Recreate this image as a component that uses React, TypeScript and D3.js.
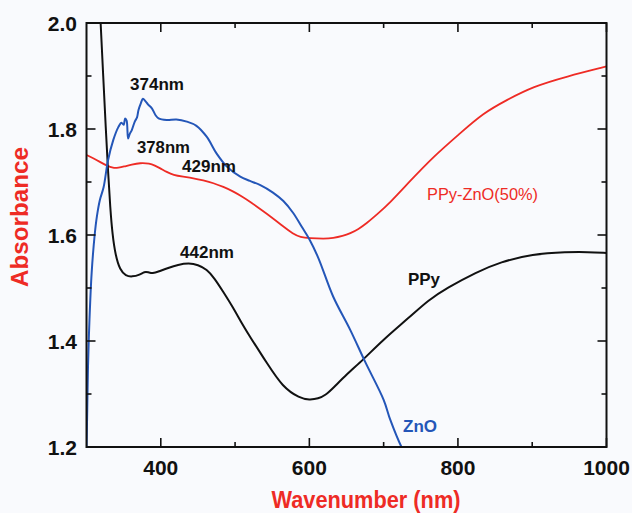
import React from "react";
import * as d3 from "d3";

// Absorbance spectra (wavelength in nm, absorbance)
const ppyWavelength = [317, 319, 322.5, 326, 329, 332, 335, 339, 345, 353, 361, 372, 378, 383, 389, 397, 410, 423, 438, 450, 462, 472, 484, 497, 508, 520, 543, 564, 587, 600, 612, 622, 632, 650, 672, 699, 735, 760, 785, 825, 857, 900, 947, 975, 1000];
const ppyAbsorbance = [2.06, 2.0, 1.9, 1.8, 1.72, 1.65, 1.6, 1.562, 1.534, 1.523, 1.521, 1.525, 1.531, 1.53, 1.527, 1.531, 1.538, 1.544, 1.547, 1.544, 1.535, 1.519, 1.493, 1.464, 1.436, 1.408, 1.358, 1.313, 1.292, 1.289, 1.291, 1.298, 1.311, 1.337, 1.364, 1.402, 1.445, 1.477, 1.5, 1.53, 1.549, 1.564, 1.568, 1.568, 1.566];

const znoWavelength = [300, 301, 302, 304, 307, 311, 314, 318, 323, 329, 336, 343, 347, 350, 352, 354, 356, 358, 361, 365, 368, 370, 373, 376, 379, 383, 388, 393, 397, 408, 421, 435, 448, 462, 475, 489, 507, 520, 534, 551, 565, 578, 590, 600, 612, 632, 655, 675, 700, 709, 724, 728];
const znoAbsorbance = [1.19, 1.27, 1.35, 1.44, 1.53, 1.6, 1.635, 1.666, 1.69, 1.741, 1.779, 1.804, 1.812, 1.808, 1.82, 1.816, 1.782, 1.79, 1.798, 1.814, 1.822, 1.836, 1.848, 1.857, 1.853, 1.846, 1.839, 1.826, 1.82, 1.817, 1.818, 1.814, 1.806, 1.785, 1.754, 1.729, 1.71, 1.702, 1.694, 1.68, 1.664, 1.642, 1.615, 1.592, 1.557, 1.484, 1.421, 1.361, 1.289, 1.251, 1.2, 1.19];

const compositeWavelength = [300, 309, 318, 327, 336, 343, 350, 361, 372, 385, 392, 399, 408, 417, 430, 444, 457, 471, 484, 498, 510, 520, 542, 565, 578, 588, 600, 620, 632, 645, 655, 666, 677, 692, 708, 735, 767, 803, 834, 866, 901, 946, 1000];
const compositeAbsorbance = [1.751, 1.745, 1.738, 1.731, 1.726, 1.727, 1.729, 1.733, 1.736, 1.735, 1.731, 1.726, 1.719, 1.713, 1.71, 1.707, 1.703, 1.698, 1.691, 1.682, 1.672, 1.663, 1.641, 1.616, 1.602, 1.596, 1.594, 1.593, 1.594, 1.598, 1.603, 1.611, 1.622, 1.64, 1.66, 1.701, 1.748, 1.792, 1.83, 1.855, 1.88, 1.899, 1.918];

const xMajorTicks = [400, 600, 800, 1000];
const xMinorTicks = [500, 700, 900];
const yMajorTicks = [1.2, 1.4, 1.6, 1.8, 2.0];
const yMinorTicks = [1.3, 1.5, 1.7, 1.9];

const W = 632;
const H = 513;
const left = 86.5;
const right = 606.5;
const top = 23;
const bottom = 447;

const FONT = "'Liberation Sans', Arial, Helvetica, sans-serif";
const RED = "#ee2b25";
const BLUE = "#2456b8";
const BLACK = "#111111";

const x = d3.scaleLinear().domain([300, 1000]).range([left, right]);
const y = d3.scaleLinear().domain([1.2, 2.0]).range([bottom, top]);

const pair = (xs: number[], ys: number[]) => xs.map((v, i) => [v, ys[i]] as [number, number]);

// smooth spectra (PPy, composite)
const smoothLine = d3
  .line<[number, number]>()
  .x((d) => x(d[0]))
  .y((d) => y(d[1]))
  .curve(d3.curveBasis);

// ZnO keeps its sharp features near the band edge
const detailLine = d3
  .line<[number, number]>()
  .x((d) => x(d[0]))
  .y((d) => y(d[1]))
  .curve(d3.curveCatmullRom.alpha(0.5));

const MAJOR = 9;
const MINOR = 5;

export default function App() {
  const fmtY = d3.format(".1f");
  return (
    <svg
      width={W}
      height={H}
      viewBox={`0 0 ${W} ${H}`}
      style={{ position: "absolute", left: 0, top: 0, display: "block" }}
    >
      <rect x={0} y={0} width={W} height={H} fill="#f9fafd" />
      <defs>
        <clipPath id="plot-clip">
          <rect x={left} y={top} width={right - left} height={bottom - top} />
        </clipPath>
      </defs>

      <g clipPath="url(#plot-clip)" fill="none" strokeWidth={2} strokeLinejoin="round">
        <path d={smoothLine(pair(compositeWavelength, compositeAbsorbance)) ?? ""} stroke={RED} strokeWidth={1.8} />
        <path d={smoothLine(pair(ppyWavelength, ppyAbsorbance)) ?? ""} stroke={BLACK} />
        <path d={detailLine(pair(znoWavelength, znoAbsorbance)) ?? ""} stroke={BLUE} />
      </g>

      {/* frame */}
      <rect x={left} y={top} width={right - left} height={bottom - top} fill="none" stroke={BLACK} strokeWidth={2} />

      {/* ticks, pointing inward on all four sides */}
      <g stroke={BLACK} strokeWidth={1.6}>
        {xMajorTicks.map((t) => (
          <g key={`xM${t}`}>
            <line x1={x(t)} x2={x(t)} y1={bottom} y2={bottom - MAJOR} />
            <line x1={x(t)} x2={x(t)} y1={top} y2={top + MAJOR} />
          </g>
        ))}
        {xMinorTicks.map((t) => (
          <g key={`xm${t}`}>
            <line x1={x(t)} x2={x(t)} y1={bottom} y2={bottom - MINOR} />
            <line x1={x(t)} x2={x(t)} y1={top} y2={top + MINOR} />
          </g>
        ))}
        {yMajorTicks.map((t) => (
          <g key={`yM${t}`}>
            <line x1={left} x2={left + MAJOR} y1={y(t)} y2={y(t)} />
            <line x1={right} x2={right - MAJOR} y1={y(t)} y2={y(t)} />
          </g>
        ))}
        {yMinorTicks.map((t) => (
          <g key={`ym${t}`}>
            <line x1={left} x2={left + MINOR} y1={y(t)} y2={y(t)} />
            <line x1={right} x2={right - MINOR} y1={y(t)} y2={y(t)} />
          </g>
        ))}
      </g>

      {/* tick labels */}
      <g fontFamily={FONT} fontWeight="bold" fontSize={21} fill={BLACK}>
        {yMajorTicks.map((t) => (
          <text key={`yl${t}`} x={77} y={y(t) + 7.5} textAnchor="end">
            {fmtY(t)}
          </text>
        ))}
        {xMajorTicks.map((t) => (
          <text key={`xl${t}`} x={x(t)} y={475} textAnchor="middle">
            {t}
          </text>
        ))}
      </g>

      {/* axis titles */}
      <text
        x={366}
        y={508}
        textAnchor="middle"
        fontFamily={FONT}
        fontWeight="bold"
        fontSize={24}
        fill={RED}
        textLength={189}
        lengthAdjust="spacingAndGlyphs"
      >
        Wavenumber (nm)
      </text>
      <text
        transform="translate(28,217) rotate(-90)"
        textAnchor="middle"
        fontFamily={FONT}
        fontWeight="bold"
        fontSize={24}
        fill={RED}
        textLength={140}
        lengthAdjust="spacingAndGlyphs"
      >
        Absorbance
      </text>

      {/* peak annotations */}
      <g fontFamily={FONT} fontWeight="bold" fontSize={17} fill={BLACK}>
        <text x={130} y={90} textLength={54} lengthAdjust="spacingAndGlyphs">374nm</text>
        <text x={137} y={153} textLength={53} lengthAdjust="spacingAndGlyphs">378nm</text>
        <text x={182} y={172} textLength={54} lengthAdjust="spacingAndGlyphs">429nm</text>
        <text x={180} y={258} textLength={54} lengthAdjust="spacingAndGlyphs">442nm</text>
        <text x={408} y={285} textLength={32} lengthAdjust="spacingAndGlyphs">PPy</text>
      </g>
      <text x={403} y={432} fontFamily={FONT} fontWeight="bold" fontSize={17} fill={BLUE} textLength={34} lengthAdjust="spacingAndGlyphs">
        ZnO
      </text>
      <text x={427} y={200} fontFamily={FONT} fontSize={17} fill={RED} textLength={111} lengthAdjust="spacingAndGlyphs">
        PPy-ZnO(50%)
      </text>
    </svg>
  );
}
